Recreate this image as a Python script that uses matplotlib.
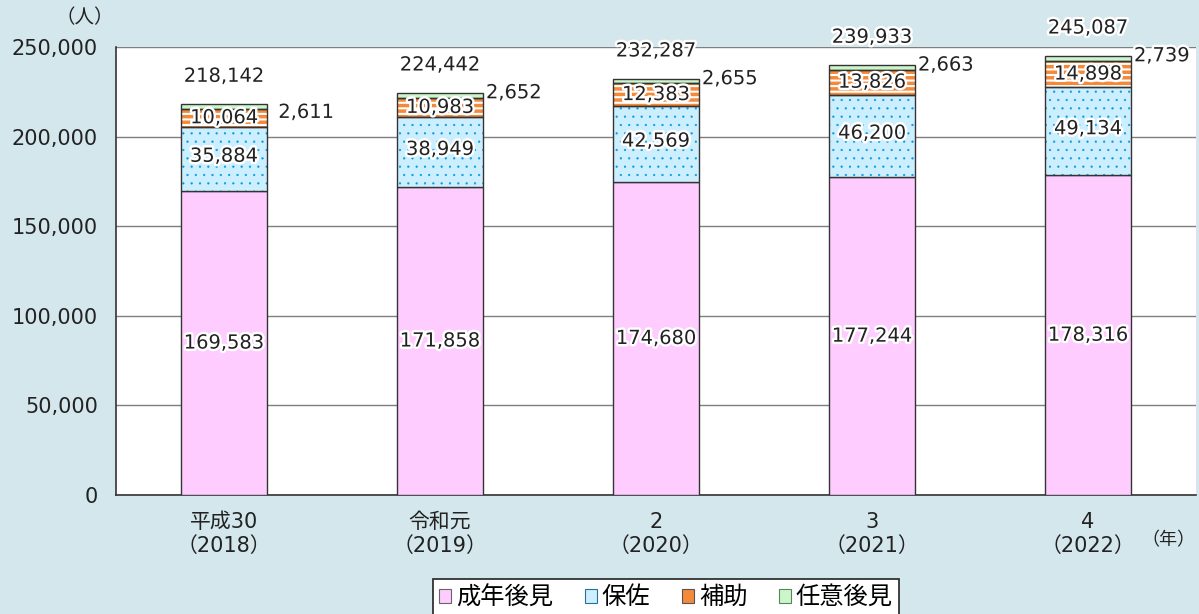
import matplotlib
matplotlib.use("Agg")
import matplotlib.pyplot as plt
import matplotlib.patheffects as pe
from matplotlib.patches import Patch
import numpy as np

years = ["平成30\n（2018）", "令和元\n（2019）", "2\n（2020）", "3\n（2021）", "4\n（2022）"]
seinen = [169583, 171858, 174680, 177244, 178316]
hosa = [35884, 38949, 42569, 46200, 49134]
hojo = [10064, 10983, 12383, 13826, 14898]
nini = [2611, 2652, 2655, 2663, 2739]
totals = [218142, 224442, 232287, 239933, 245087]
series_names = ["成年後見", "保佐", "補助", "任意後見"]
yticks = [0, 50000, 100000, 150000, 200000, 250000]

FAM = ["DejaVu Sans", "Noto Sans CJK JP"]
plt.rcParams["font.family"] = FAM

BG = "#d4e7ec"
C_SEI = "#ffccff"
C_HOSA = "#ccefff"
C_HOJO = "#f4893a"
C_NINI = "#ccf5cc"
EDGE = "#333333"

fig = plt.figure(figsize=(11.99, 6.14), dpi=100, facecolor=BG)
ax = fig.add_axes([116/1199, 1-495/614, (1196-116)/1199, (495-47)/614])
ax.set_facecolor("white")

x = np.arange(len(years))
w = 0.4
s = np.array(seinen); h = np.array(hosa); j = np.array(hojo); n = np.array(nini)

ax.bar(x, s, w, color=C_SEI, edgecolor=EDGE, linewidth=1, zorder=3)
# hosa with blue dots
with plt.rc_context({"hatch.linewidth": 0.4}):
    ax.bar(x, h, w, bottom=s, color=C_HOSA, edgecolor="#0a9ae0", hatch="..", linewidth=0, zorder=3)
ax.bar(x, h, w, bottom=s, fill=False, edgecolor=EDGE, linewidth=1, zorder=4)
# hojo with white stripes
with plt.rc_context({"hatch.linewidth": 1.5}):
    ax.bar(x, j, w, bottom=s+h, color=C_HOJO, edgecolor="white", hatch="---", linewidth=0, zorder=3)
ax.bar(x, j, w, bottom=s+h, fill=False, edgecolor=EDGE, linewidth=1, zorder=4)
# nini
ax.bar(x, n, w, bottom=s+h+j, color=C_NINI, edgecolor=EDGE, linewidth=1, zorder=3)

halo = [pe.withStroke(linewidth=3.5, foreground="white")]
def lab(xx, yy, txt, **kw):
    ax.text(xx, yy, txt, ha="center", va="center", fontsize=14, color="#222222",
            path_effects=halo, zorder=6, **kw)

for i in range(len(x)):
    lab(x[i], s[i]/2, f"{seinen[i]:,}")
    lab(x[i], s[i] + h[i]/2 + 1500, f"{hosa[i]:,}")
    lab(x[i], s[i] + h[i] + j[i]/2, f"{hojo[i]:,}")
    top = totals[i]
    ax.annotate(f"{totals[i]:,}", (x[i], top), xytext=(0, 20), textcoords="offset points",
                ha="center", va="center", fontsize=14, color="#222222",
                path_effects=halo, zorder=6, annotation_clip=False)
    dx, dy = (8, -6) if i == 0 else (2, 0)
    ax.annotate(f"{nini[i]:,}", (x[i] + w/2, top), xytext=(dx, dy), textcoords="offset points",
                ha="left", va="center", fontsize=14, color="#222222",
                path_effects=halo, zorder=6, annotation_clip=False)

ax.set_xlim(-0.5, 4.5)
ax.set_ylim(0, 250000)
ax.set_yticks(yticks)
ax.set_yticklabels([f"{v:,}" for v in yticks], fontsize=15, color="#222222")
ax.set_xticks(x)
ax.set_xticklabels(years, fontsize=15, color="#222222", linespacing=1.25)
ax.tick_params(axis="both", length=0)
ax.tick_params(axis="y", pad=13)
ax.tick_params(axis="x", pad=12)
ax.grid(axis="y", color="#7f7f7f", linewidth=1, zorder=0)
ax.set_axisbelow(True)
for sp in ["top", "right"]:
    ax.spines[sp].set_visible(False)
for sp in ["left", "bottom"]:
    ax.spines[sp].set_color(EDGE)
    ax.spines[sp].set_linewidth(1.2)

fig.text(85/1199, 1-18/614, "（人）", ha="center", va="center", fontsize=14, color="#222222")
fig.text(1168/1199, 1-540/614, "（年）", ha="center", va="center", fontsize=13, color="#222222")

handles = [Patch(facecolor=c, edgecolor=e, linewidth=0.8) for c, e in
           [(C_SEI, "#666666"), (C_HOSA, "#2a6f9a"), (C_HOJO, "#555555"), (C_NINI, "#558855")]]
leg = fig.legend(handles, series_names, loc="lower center", bbox_to_anchor=(666/1199, -0.022),
                 ncol=4, frameon=True, fancybox=False, fontsize=17.5, handlelength=0.5,
                 handleheight=0.5, handletextpad=0.2, columnspacing=1.3, borderpad=0.25)
leg.get_frame().set_edgecolor("#222222")
leg.get_frame().set_linewidth(1.2)
leg.get_frame().set_facecolor("white")
leg.get_frame().set_alpha(1)

fig.savefig("out.png", dpi=100, facecolor=BG)
